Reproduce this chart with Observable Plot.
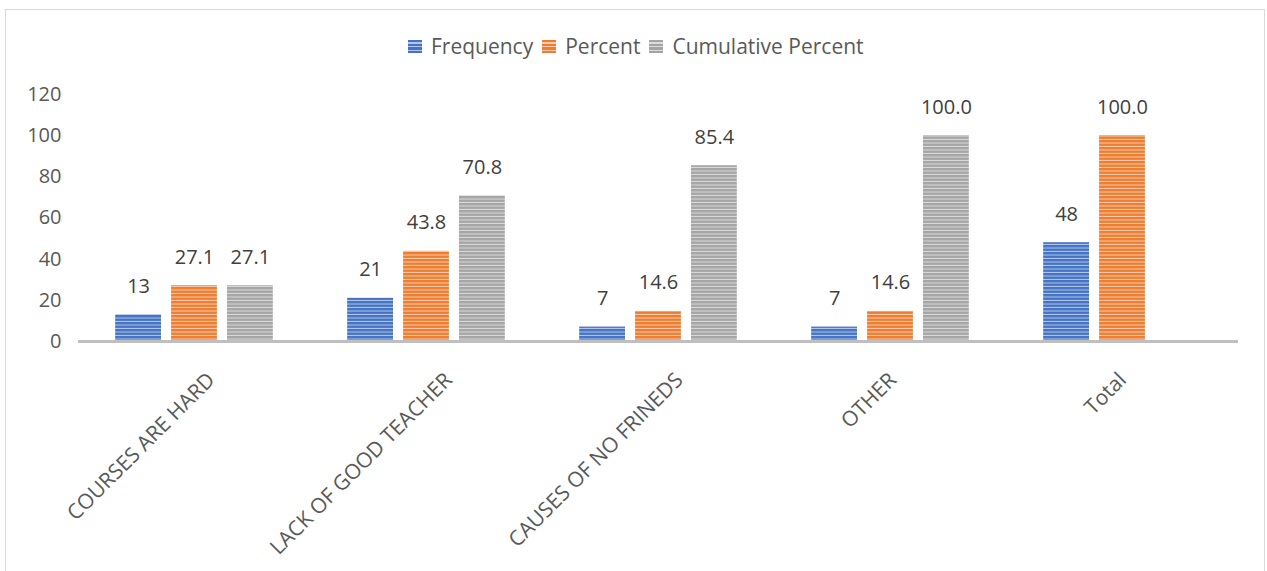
<!DOCTYPE html>
<html>
<head>
<meta charset="utf-8">
<script src="https://cdn.jsdelivr.net/npm/d3@7"></script>
<script src="https://cdn.jsdelivr.net/npm/@observablehq/plot@0.6"></script>
<style>
  html, body { margin: 0; padding: 0; background: #fff; }
  body { width: 1267px; height: 571px; position: relative; overflow: hidden; font-family: "Open Sans", sans-serif; }
  .frame { position: absolute; left: 5px; top: 9px; width: 1260px; height: 600px; border: 1px solid #d9d9d9; box-sizing: border-box; }
  .legend { position: absolute; left: 408px; top: 32px; display: flex; align-items: center; font-size: 21px; color: #595959; white-space: nowrap; line-height: 28px; }
  .legend .item { display: flex; align-items: center; margin-right: 9px; }
  .legend .sw { width: 14px; height: 13px; margin-right: 9px; display: inline-block; }
  #chart { position: absolute; left: 0; top: 70px; }
</style>
</head>
<body>
<div class="frame"></div>
<div class="legend" id="legend"></div>
<div id="chart"></div>
<script>
// Reasons and their counts / shares
const categories = ["COURSES ARE HARD", "LACK OF GOOD TEACHER", "CAUSES OF NO FRINEDS", "OTHER", "Total"];
const seriesNames = ["Frequency", "Percent", "Cumulative Percent"];
const frequency = [13, 21, 7, 7, 48];
const percent = [27.1, 43.8, 14.6, 14.6, 100.0];
const cumulative = [27.1, 70.8, 85.4, 100.0, null];
const yTicks = [0, 20, 40, 60, 80, 100, 120];

const seriesColors = ["#4472C4", "#ED7D31", "#A5A5A5"];
const patternIds = ["stripe-freq", "stripe-pct", "stripe-cum"];

// Long table: one row per category and series (missing values skipped)
const columns = [frequency, percent, cumulative];
const rows = [];
categories.forEach((c, i) => {
  seriesNames.forEach((s, j) => {
    const v = columns[j][i];
    if (v != null) rows.push({category: c, series: s, value: v, label: j === 0 ? String(v) : v.toFixed(1)});
  });
});

const font = "Open Sans, sans-serif";
const catFontSize = 21;

// Longer rotated category labels sit a little further right of their band centre
const ctx = document.createElement("canvas").getContext("2d");
ctx.font = `${catFontSize}px "Open Sans"`;
const labelShift = c => 0.11 * ctx.measureText(c).width - 5;

const categoryAxes = categories.map(c =>
  Plot.axisFx({ticks: [c], anchor: "bottom", tickRotate: -45, tickSize: 0, tickPadding: 35,
    dx: labelShift(c), label: null, fill: "#595959", fontSize: catFontSize})
);

const chart = Plot.plot({
  width: 1267,
  height: 501,
  marginTop: 24,
  marginBottom: 230,
  marginLeft: 77,
  marginRight: 28,
  style: {fontFamily: font, fontSize: "20px", color: "#595959", background: "transparent", overflow: "visible"},
  fx: {domain: categories, padding: 0, label: null},
  x: {domain: seriesNames, paddingInner: 0.18, paddingOuter: 0.665, round: false, axis: null},
  y: {domain: [0, 120], label: null},
  color: {domain: seriesNames, range: patternIds.map(id => `url(#${id})`)},
  marks: [
    Plot.axisY({ticks: yTicks, tickSize: 0, tickPadding: 17, label: null, fill: "#595959", fontSize: 20}),
    ...categoryAxes,
    Plot.barY(rows, {fx: "category", x: "series", y: "value", fill: "series"}),
    Plot.text(rows, {fx: "category", x: "series", y: "value", text: "label", dy: -22, lineAnchor: "bottom", fill: "#404040", fontSize: 20}),
    Plot.ruleY([0], {stroke: "#bfbfbf", strokeWidth: 3})
  ]
});

// Striped fills for the bars
const ns = "http://www.w3.org/2000/svg";
const defs = document.createElementNS(ns, "defs");
patternIds.forEach((id, i) => {
  const p = document.createElementNS(ns, "pattern");
  p.setAttribute("id", id);
  p.setAttribute("patternUnits", "userSpaceOnUse");
  p.setAttribute("width", 10);
  p.setAttribute("height", 3.5);
  const base = document.createElementNS(ns, "rect");
  base.setAttribute("width", 10);
  base.setAttribute("height", 3.5);
  base.setAttribute("fill", seriesColors[i]);
  const line = document.createElementNS(ns, "rect");
  line.setAttribute("y", 2.5);
  line.setAttribute("width", 10);
  line.setAttribute("height", 1);
  line.setAttribute("fill", "#ffffff");
  line.setAttribute("fill-opacity", 0.6);
  p.appendChild(base);
  p.appendChild(line);
  defs.appendChild(p);
});
chart.insertBefore(defs, chart.firstChild);
document.getElementById("chart").appendChild(chart);

// Legend
const legend = document.getElementById("legend");
seriesNames.forEach((s, i) => {
  const item = document.createElement("span");
  item.className = "item";
  const sw = document.createElement("span");
  sw.className = "sw";
  sw.style.background = `repeating-linear-gradient(to bottom, ${seriesColors[i]} 0px, ${seriesColors[i]} 2.5px, rgba(255,255,255,0.6) 2.5px, rgba(255,255,255,0.6) 3.5px), ${seriesColors[i]}`;
  const t = document.createElement("span");
  t.textContent = s;
  item.appendChild(sw);
  item.appendChild(t);
  legend.appendChild(item);
});
</script>
</body>
</html>
